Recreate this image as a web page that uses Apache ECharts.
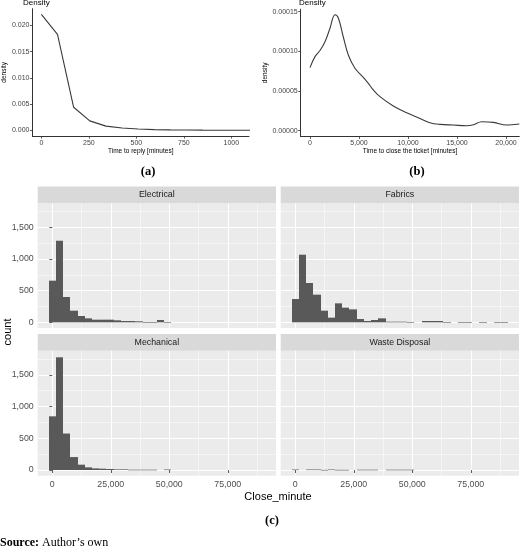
<!DOCTYPE html>
<html>
<head>
<meta charset="utf-8">
<script src="https://cdn.jsdelivr.net/npm/echarts@6/dist/echarts.min.js"></script>
<style>
  html, body { margin: 0; padding: 0; background: #fff; }
  #chart { width: 520px; height: 557px; }
</style>
</head>
<body>
<div id="chart"></div>
<script>
// (a) density of time to reply
const replyX = [0, 85, 170, 255, 340, 425, 510, 595, 680, 765, 850, 935, 1020, 1105];
const replyDensity = [0.0221, 0.0183, 0.0044, 0.0018, 0.0008, 0.00044, 0.00025, 0.00014, 0.00009, 0.00006, 0.00004, 0.00003, 0.00002, 0.00002];
const replyXTicks = [0, 250, 500, 750, 1000];
const replyYTicks = [0, 0.005, 0.01, 0.015, 0.02];

// (b) density of time to close
const closeX = [0, 510, 1020, 1530, 2040, 2550, 2890, 3400, 3910, 4590, 5440, 5950, 6460, 7140, 8500, 9860, 11220, 12240, 13270, 14630, 15990, 16670, 17520, 18710, 20070, 21360];
const closeDensity = [0.0000794, 0.0000933, 0.000101, 0.000112, 0.000129, 0.000146, 0.000142, 0.000118, 0.0000954, 0.0000786, 0.0000672, 0.0000597, 0.0000513, 0.0000429, 0.0000311, 0.0000225, 0.0000155, 0.0000101, 0.0000080, 0.0000071, 0.0000063, 0.0000076, 0.0000113, 0.0000105, 0.0000071, 0.0000084];
const closeXTicks = [0, 5000, 10000, 15000, 20000];
const closeYTicks = [0, 0.00005, 0.0001, 0.00015];

// (c) histograms of Close_minute, 30 bins
const binWidth = 3086;
const binCenters = [0, 3086, 6172, 9258, 12344, 15430, 18516, 21602, 24688, 27774, 30860, 33946, 37032, 40118, 43204,
  46290, 49376, 52462, 55548, 58634, 61720, 64806, 67892, 70978, 74064, 77150, 80236, 83322, 86408, 89494];
const panelNames = ['Electrical', 'Fabrics', 'Mechanical', 'Waste Disposal'];
const electrical = [658, 1289, 400, 184, 100, 63, 42, 42, 42, 32, 21, 21, 16, 2, 3, 37, 3, 0, 0, 0, 0, 0, 0, 0, 0, 0, 0, 0, 0, 0];
const fabrics = [368, 1068, 621, 437, 184, 74, 300, 232, 205, 53, 21, 37, 63, 10, 10, 10, 5, 0, 21, 21, 21, 5, 0, 5, 5, 0, 5, 0, 5, 5];
const mechanical = [846, 1776, 575, 204, 84, 42, 26, 21, 16, 10, 10, 5, 5, 5, 5, 0, 8, 0, 0, 0, 0, 0, 0, 0, 0, 0, 0, 0, 0, 0];
const wasteDisposal = [8, 0, 8, 8, 2, 8, 3, 3, 0, 5, 5, 5, 0, 5, 5, 5, 5, 0, 0, 0, 0, 0, 0, 0, 0, 0, 0, 0, 0, 0];
const histXTicks = [0, 25000, 50000, 75000];
const histXMinor = [12500, 37500, 62500, 87500];
const histYTicks = [0, 500, 1000, 1500];
const histYMinor = [250, 750, 1250, 1750];

const SANS = 'Liberation Sans';
const SERIF = 'Liberation Serif';
const comma = v => Math.round(v).toLocaleString('en-US');

const chart = echarts.init(document.getElementById('chart'), null, { renderer: 'canvas' });

// panel boxes for the facets: [left, top, width, height]
const panels = [
  [37.7, 203.3, 238.3, 124.7],
  [280.7, 203.3, 238.3, 124.7],
  [37.7, 350.7, 238.3, 125],
  [280.7, 350.7, 238.3, 125]
];
const counts = [electrical, fabrics, mechanical, wasteDisposal];

const grids = [
  { left: 25, top: 8.7, width: 224, height: 127.4 },
  { left: 300.7, top: 9.2, width: 218.6, height: 127.3 }
];
const xAxes = [];
const yAxes = [];
const series = [];

// density axes (theme_classic look)
function densityAxis(gi, min, max, ticks, fmt, name, gap) {
  return {
    type: 'value', gridIndex: gi, min: min, max: max,
    name: name, nameLocation: 'middle', nameGap: gap,
    nameTextStyle: { fontFamily: SANS, fontSize: 6.5, color: '#000' },
    axisLine: { show: true, onZero: false, lineStyle: { color: '#333', width: 1 } },
    axisTick: { show: true, length: 2.5, customValues: ticks, lineStyle: { color: '#333', width: 0.8 } },
    axisLabel: { show: true, customValues: ticks, formatter: fmt, margin: 3,
      fontFamily: SANS, fontSize: 7, color: '#444' },
    splitLine: { show: false }
  };
}
xAxes.push(densityAxis(0, -47, 1093, replyXTicks, v => String(v), 'Time to reply [minutes]', 11.5));
yAxes.push(densityAxis(0, -0.0011, 0.0232, replyYTicks, v => v.toFixed(3), 'density', 21));
xAxes.push(densityAxis(1, -949, 21357, closeXTicks, comma, 'Time to close the ticket [minutes]', 11.5));
yAxes.push(densityAxis(1, -0.0000073, 0.000153, closeYTicks, v => v.toFixed(5), 'density', 28));

series.push({
  type: 'line', xAxisIndex: 0, yAxisIndex: 0, symbol: 'none',
  data: replyX.map((x, i) => [x, replyDensity[i]]),
  lineStyle: { color: '#3a3a3a', width: 1.1 }
});
series.push({
  type: 'line', xAxisIndex: 1, yAxisIndex: 1, symbol: 'none', smooth: 0.4,
  data: closeX.map((x, i) => [x, closeDensity[i]]),
  lineStyle: { color: '#3a3a3a', width: 1.1 }
});

// each bin drawn edge to edge, snapped to whole pixels so no seams show
function renderBin(params, api) {
  const c = api.value(0);
  const n = api.value(1);
  if (!n) return;
  const p0 = api.coord([c - binWidth / 2, n]);
  const p1 = api.coord([c + binWidth / 2, 0]);
  const x0 = Math.round(p0[0]);
  const x1 = Math.round(p1[0]);
  return {
    type: 'rect',
    shape: { x: x0, y: p0[1], width: x1 - x0, height: Math.max(p1[1] - p0[1], 0.6) },
    style: { fill: '#595959' }
  };
}

panels.forEach((p, i) => {
  const gi = grids.length;
  grids.push({ left: p[0], top: p[1], width: p[2], height: p[3], show: true,
    backgroundColor: '#EBEBEB', borderWidth: 0 });
  const bottomRow = i >= 2;
  const leftCol = i % 2 === 0;
  const xi = xAxes.length;
  const yi = yAxes.length;
  // major
  xAxes.push({
    type: 'value', gridIndex: gi, min: -6240, max: 95600,
    axisLine: { show: false },
    axisTick: { show: bottomRow, length: 3, customValues: histXTicks, lineStyle: { color: '#333', width: 0.8 } },
    axisLabel: { show: bottomRow, customValues: histXTicks, formatter: comma, margin: 4,
      fontFamily: SANS, fontSize: 8.8, color: '#4D4D4D' },
    splitLine: { show: true, lineStyle: { color: '#fff', width: 1.1 } }
  });
  yAxes.push({
    type: 'value', gridIndex: gi, min: -89.5, max: 1880,
    axisLine: { show: false },
    axisTick: { show: leftCol, length: 3, customValues: histYTicks, lineStyle: { color: '#333', width: 0.8 } },
    axisLabel: { show: leftCol, customValues: histYTicks, formatter: comma, margin: 4,
      fontFamily: SANS, fontSize: 8.8, color: '#4D4D4D' },
    splitLine: { show: true, lineStyle: { color: '#fff', width: 1.1 } }
  });
  // minor grid lines
  xAxes.push({
    type: 'value', gridIndex: gi, min: -6240, max: 95600, position: 'top',
    axisLine: { show: false }, axisTick: { show: false, customValues: histXMinor }, axisLabel: { show: false },
    splitLine: { show: true, lineStyle: { color: '#fff', width: 0.5 } }
  });
  yAxes.push({
    type: 'value', gridIndex: gi, min: -89.5, max: 1880, position: 'right',
    axisLine: { show: false }, axisTick: { show: false, customValues: histYMinor }, axisLabel: { show: false },
    splitLine: { show: true, lineStyle: { color: '#fff', width: 0.5 } }
  });
  series.push({
    type: 'custom', name: panelNames[i], xAxisIndex: xi, yAxisIndex: yi,
    renderItem: renderBin,
    data: binCenters.map((c, k) => [c, counts[i][k]])
  });
});

// strips and loose texts
const graphic = [];
panels.forEach((p, i) => {
  graphic.push({ type: 'rect', shape: { x: p[0], y: p[1] - 16.8, width: p[2], height: 16.8 }, style: { fill: '#D9D9D9' } });
  graphic.push({ type: 'text', x: p[0] + p[2] / 2, y: p[1] - 8.4,
    style: { text: panelNames[i], fontFamily: SANS, fontSize: 8.8, fill: '#1A1A1A', align: 'center', verticalAlign: 'middle' } });
});
function txt(t, x, y, font, size, extra) {
  return Object.assign({ type: 'text', x: x, y: y,
    style: { text: t, fontFamily: font, fontSize: size, fill: '#000', align: 'center', verticalAlign: 'middle' } }, extra || {});
}
const titleA = txt('Density', 23, 3, SANS, 8); titleA.style.align = 'left'; graphic.push(titleA);
const titleB = txt('Density', 299, 3, SANS, 8); titleB.style.align = 'left'; graphic.push(titleB);
const capA = txt('(a)', 148, 172, SERIF, 12.5); capA.style.fontWeight = 'bold'; graphic.push(capA);
const capB = txt('(b)', 417, 172, SERIF, 12.5); capB.style.fontWeight = 'bold'; graphic.push(capB);
const capC = txt('(c)', 272, 521, SERIF, 12.5); capC.style.fontWeight = 'bold'; graphic.push(capC);
graphic.push(txt('count', 8, 332, SANS, 11, { rotation: Math.PI / 2 }));
graphic.push(txt('Close_minute', 278, 497, SANS, 11));
graphic.push({ type: 'text', x: 0, y: 543,
  style: { text: '{b|Source:} Author\u2019s own', fontFamily: SERIF, fontSize: 12, fill: '#000', verticalAlign: 'middle',
    rich: { b: { fontFamily: SERIF, fontSize: 12, fontWeight: 'bold' } } } });

const option = {
  animation: false,
  backgroundColor: '#fff',
  grid: grids,
  xAxis: xAxes,
  yAxis: yAxes,
  series: series,
  graphic: graphic
};
chart.setOption(option);
</script>
</body>
</html>
